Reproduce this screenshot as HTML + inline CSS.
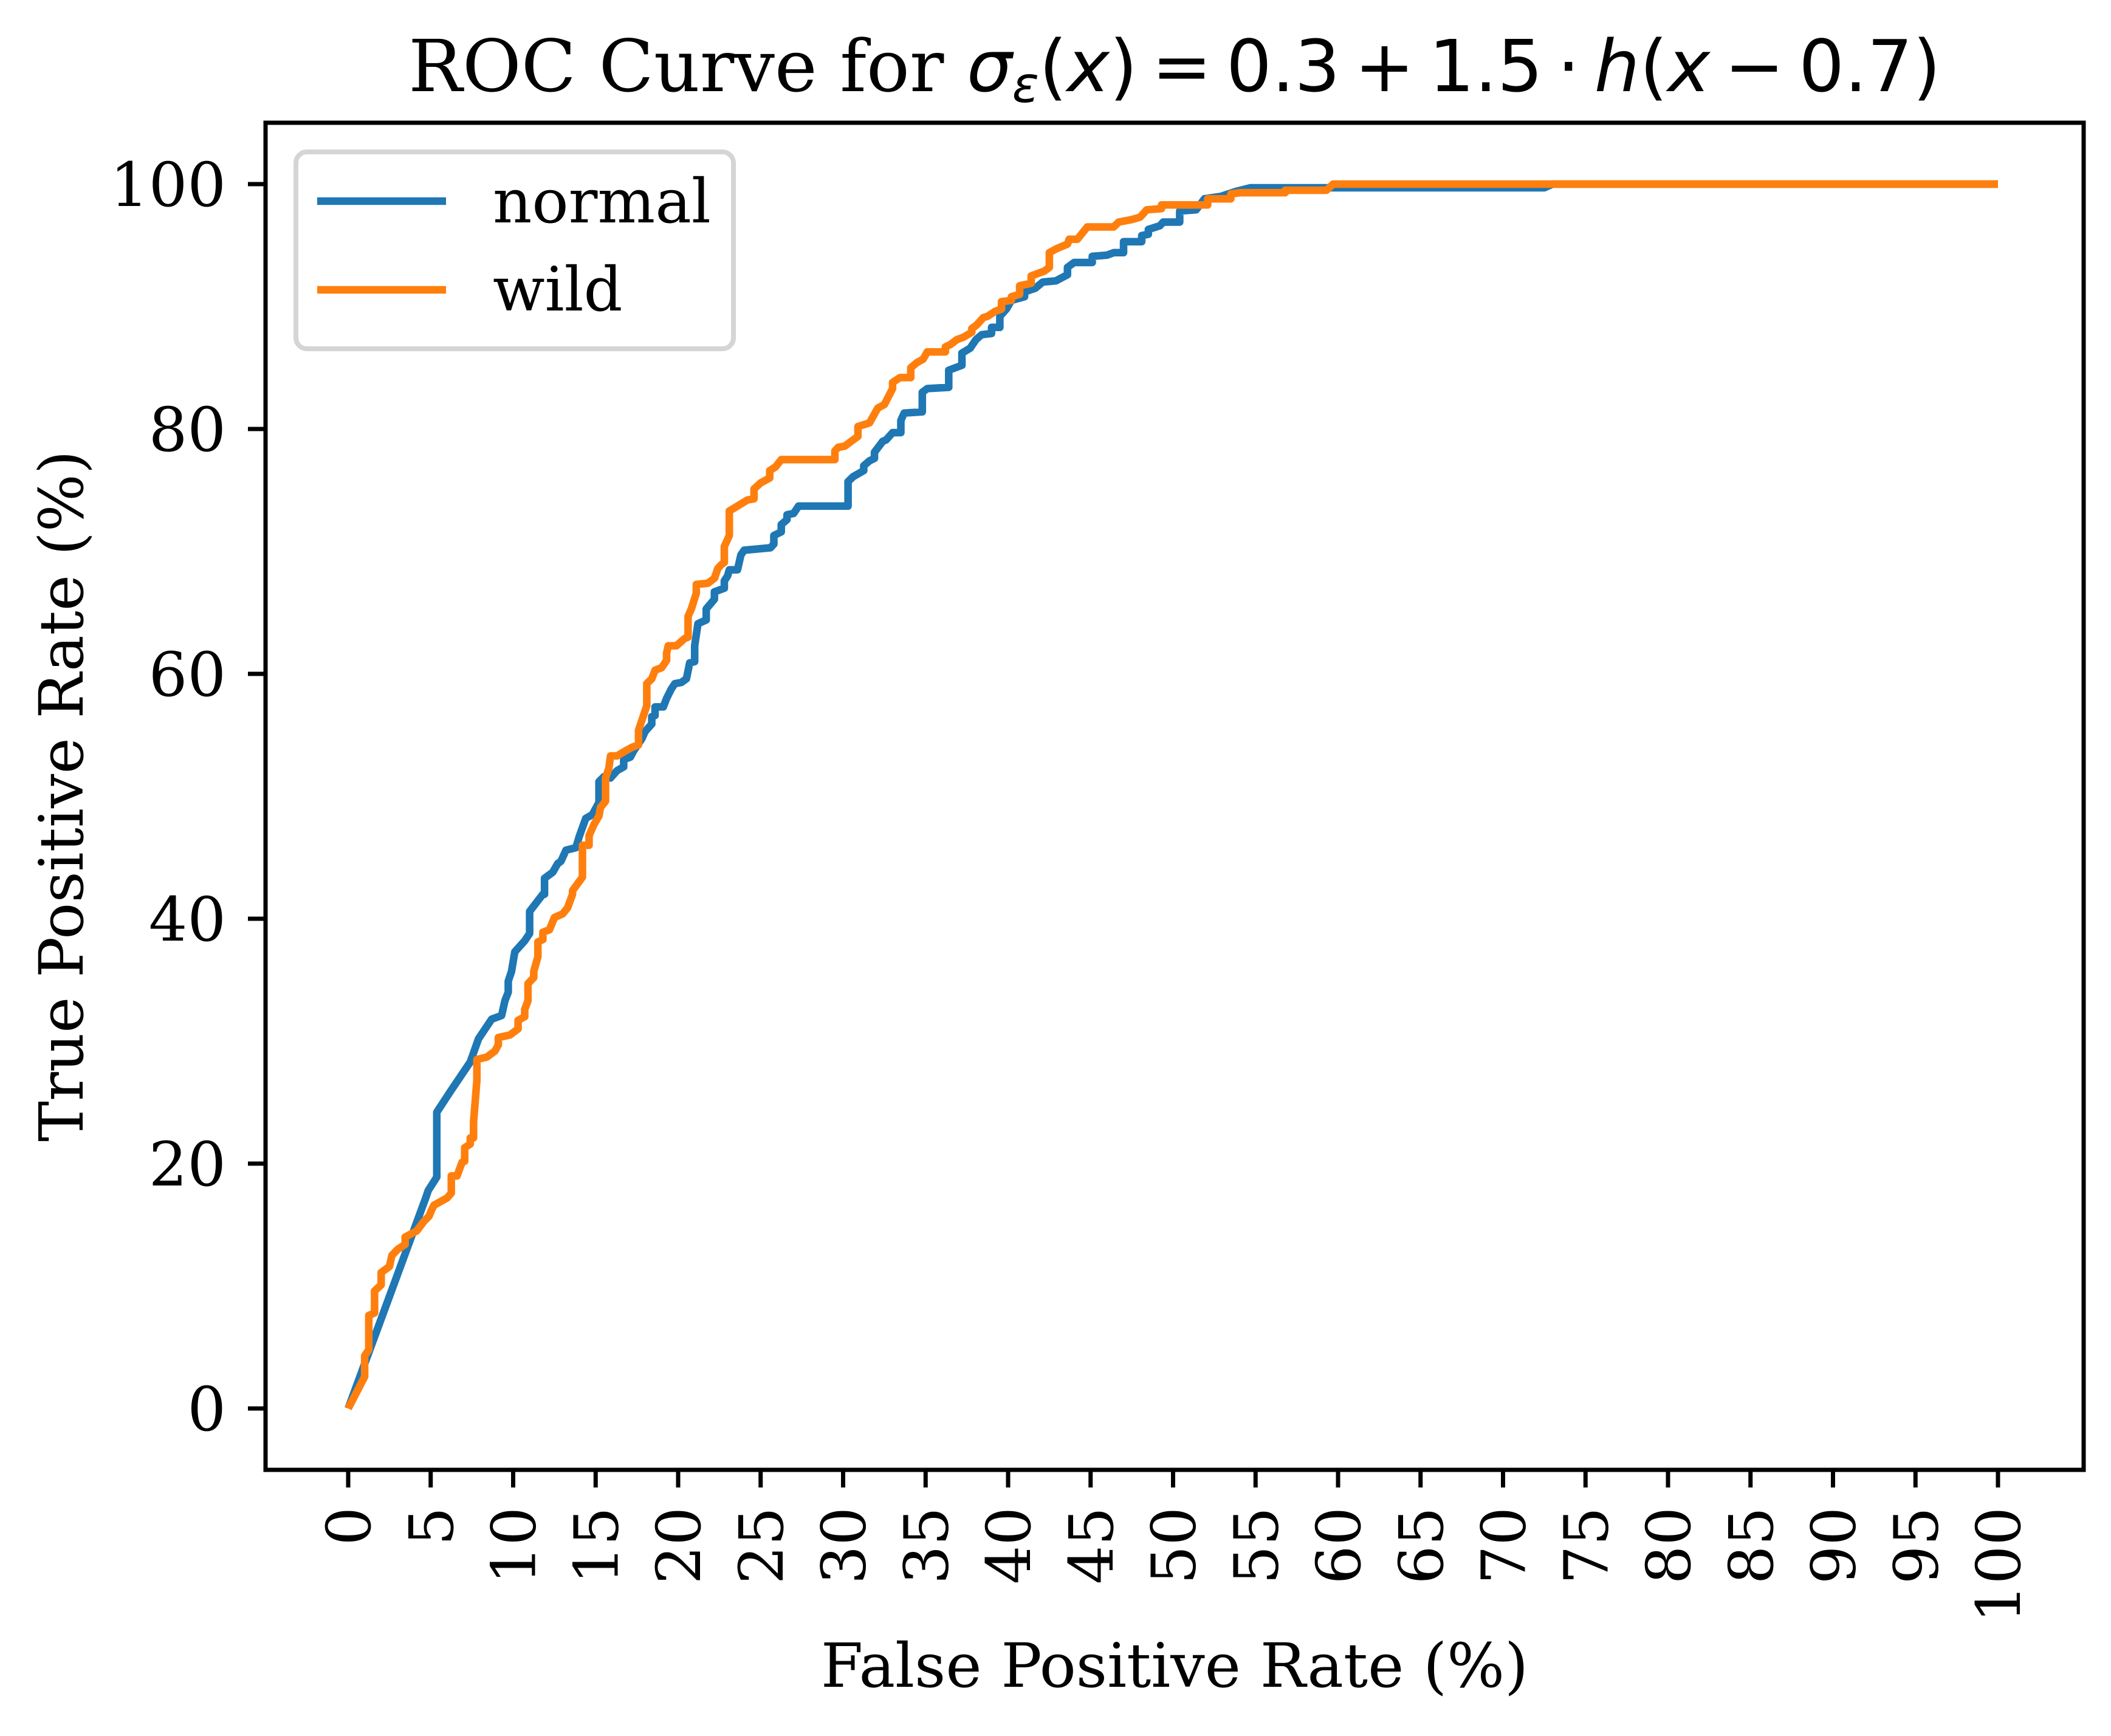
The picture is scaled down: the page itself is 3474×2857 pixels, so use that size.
<!DOCTYPE html>
<html><head><meta charset="utf-8"><style>
html,body{margin:0;padding:0;background:#fff;}
svg{display:block;}
text{font-family:"DejaVu Serif","Liberation Serif",serif;fill:#000;}
.m{font-family:"DejaVu Sans","Liberation Sans",sans-serif;font-style:italic;}
.mr{font-family:"DejaVu Sans","Liberation Sans",sans-serif;word-spacing:-14px;}
</style></head><body>
<svg id="chart" xmlns="http://www.w3.org/2000/svg" width="3474" height="2857" viewBox="0 0 3474 2857">
<rect x="0" y="0" width="3474" height="2857" fill="#fff"/>
<text x="1933" y="150" font-size="118" text-anchor="middle">ROC Curve for <tspan class="m">σ</tspan><tspan class="m" font-size="82" dy="18">ε</tspan><tspan class="mr" dy="-18">(</tspan><tspan class="m">x</tspan><tspan class="mr">) = 0.3 + 1.5 · </tspan><tspan class="m">h</tspan><tspan class="mr">(</tspan><tspan class="m">x</tspan><tspan class="mr"> − 0.7)</tspan></text>
<g id="xticks"></g>
<g id="yticks"></g>
<g id="series"></g>
<rect x="437" y="202" width="2992" height="2217" fill="none" stroke="#000" stroke-width="7"/>
<text x="1933" y="2776" font-size="100" text-anchor="middle">False Positive Rate (%)</text>
<text transform="translate(100,1310) rotate(-90)" font-size="100" text-anchor="middle" dy="0.36em">True Positive Rate (%)</text>
<g>
<rect x="487" y="250" width="720" height="324" rx="18" fill="#fff" fill-opacity="0.8" stroke="#d5d5d5" stroke-width="8"/>
<line x1="522" y1="331" x2="734" y2="331" stroke="#1f77b4" stroke-width="12.5"/>
<text x="811" y="366" font-size="100">normal</text>
<line x1="522" y1="477" x2="734" y2="477" stroke="#ff7f0e" stroke-width="12.5"/>
<text x="811" y="511" font-size="100">wild</text>
</g>
</svg>
<script>
const xTicks = [0,5,10,15,20,25,30,35,40,45,50,55,60,65,70,75,80,85,90,95,100];
const yTicks = [0,20,40,60,80,100];
const normalFpr = [0,4.7,4.85,5.37,5.37,6.2,7.4,7.9,8.7,9.3,9.5,9.7,9.7,9.9,10.1,10.7,11.0,11.0,11.4,11.8,11.9,11.9,12.4,12.7,12.9,13.2,13.8,14.0,14.4,14.8,15.2,15.2,15.5,15.9,16.3,16.7,16.7,17.1,17.3,17.8,18.0,18.4,18.4,18.6,18.6,19.1,19.3,19.6,19.8,20.2,20.5,20.7,21.0,21.0,21.2,21.7,21.7,22.2,22.2,22.8,22.8,23.0,23.1,23.6,23.8,24.0,25.6,25.8,25.8,26.25,26.25,26.6,26.6,27.0,27.3,30.3,30.3,30.6,31.25,31.25,31.6,31.9,31.9,32.4,32.6,33.0,33.5,33.5,33.7,34.8,34.8,35.1,36.4,36.4,37.2,37.2,37.7,38.05,38.4,39.0,39.0,39.5,39.5,39.9,40.2,41.0,41.0,41.65,42.1,42.9,43.6,43.6,44.0,45.1,45.1,46.0,46.4,47.0,47.0,48.1,48.1,48.5,48.5,49.2,49.4,50.4,50.4,51.4,51.9,52.9,53.8,54.7,72.5,73.0,100];
const normalTpr = [0,17.2,17.8,18.9,24.2,25.9,28.3,30.2,31.8,32.1,33.3,34.0,34.9,35.7,37.3,38.2,38.8,40.6,41.3,42.0,42.0,43.3,43.8,44.5,44.7,45.6,45.8,46.7,48.2,48.5,49.5,51.2,51.6,51.5,52.1,52.4,53.0,53.2,53.7,54.7,55.3,55.9,56.5,56.6,57.3,57.3,58.0,58.8,59.2,59.3,59.6,60.9,61.0,62.3,64.1,64.4,65.3,66.1,66.7,67.0,67.6,68.0,68.5,68.5,69.7,70.1,70.3,70.6,71.3,71.6,72.2,72.6,73.0,73.1,73.7,73.7,75.7,76.1,76.6,77.0,77.4,77.6,78.1,79.0,79.1,79.7,79.7,80.7,81.3,81.4,83.0,83.3,83.4,84.8,85.2,86.2,86.6,87.3,87.7,87.8,88.3,88.3,89.2,89.8,90.5,90.8,91.2,91.5,92.0,92.1,92.6,93.2,93.6,93.6,94.1,94.2,94.4,94.4,95.3,95.3,95.8,95.9,96.3,96.6,96.9,96.9,97.8,97.9,98.8,99.0,99.4,99.7,99.7,100,100];
const wildFpr = [0,1.0,1.0,1.25,1.25,1.6,1.6,2.0,2.0,2.5,2.65,3.0,3.45,3.45,4.15,4.6,4.9,5.05,5.2,6.0,6.25,6.25,6.6,6.9,7.06,7.06,7.4,7.4,7.6,7.6,7.8,7.8,8.4,8.9,9.1,9.1,9.8,10.3,10.3,10.7,10.7,10.9,10.9,11.25,11.25,11.5,11.5,11.8,11.8,12.2,12.5,13.0,13.3,13.6,13.6,14.2,14.2,14.6,14.6,14.9,15.2,15.3,15.6,15.6,15.8,15.9,16.3,16.8,17.2,17.6,17.6,18.1,18.1,18.4,18.6,19.0,19.3,19.3,19.4,19.9,20.4,20.6,20.6,20.8,21.1,21.1,21.8,22.2,22.4,22.6,22.8,22.8,23.1,23.1,24.2,24.6,24.6,25.0,25.55,25.55,25.9,26.25,29.5,29.5,29.7,30.1,30.9,30.9,31.6,32.1,32.5,33.0,33.0,33.45,34.1,34.1,34.45,34.85,35.1,36.2,36.2,36.5,36.9,37.3,37.8,37.8,38.1,38.5,38.75,39.2,39.6,39.6,40.2,40.2,40.7,40.7,41.4,41.4,42.2,42.5,42.5,42.9,43.6,43.7,44.2,44.8,46.4,46.7,47.5,48.0,48.4,49.3,49.3,50.3,52.1,52.1,53.5,53.5,54.1,56.8,56.8,59.3,59.7,100];
const wildTpr = [0,2.6,4.3,4.8,7.6,7.8,9.6,10.1,11.1,11.6,12.5,13.0,13.4,14.0,14.5,15.3,15.7,16.2,16.6,17.2,17.6,19.0,19.0,20.1,20.2,21.3,21.6,22.1,22.1,23.4,26.8,28.5,28.7,29.2,29.7,30.3,30.5,31.0,31.7,32.0,32.6,33.3,34.7,35.2,35.7,36.9,38.1,38.3,38.9,39.1,40.1,40.4,40.9,42.0,42.3,43.4,46.0,46.0,46.8,47.7,48.4,49.1,49.6,51.5,52.3,53.3,53.3,53.7,54.0,54.2,55.4,57.4,59.2,59.6,60.3,60.5,61.1,61.7,62.3,62.3,62.9,63.0,64.7,65.3,66.6,67.3,67.4,67.8,68.6,68.9,69.1,70.4,71.3,73.3,74.2,74.3,75.1,75.6,76.0,76.6,76.9,77.5,77.5,78.2,78.5,78.6,79.4,80.2,80.5,81.7,82.0,83.3,83.8,84.2,84.2,85.0,85.4,85.7,86.3,86.3,86.7,86.9,87.3,87.5,87.9,88.2,88.5,89.1,89.2,89.6,89.8,90.4,90.5,90.8,91.0,91.7,91.9,92.5,92.9,93.2,94.4,94.7,95.1,95.5,95.5,96.5,96.5,96.9,97.1,97.3,97.9,98.0,98.3,98.3,98.3,98.8,98.8,99.2,99.3,99.3,99.5,99.5,100,100];

const NS = 'http://www.w3.org/2000/svg';
function sx(v){ return 573 + v * 27.15; }
function sy(v){ return 2318 - v * 20.15; }

const xg = document.getElementById('xticks');
xTicks.forEach(function(t){
  const x = sx(t);
  const ln = document.createElementNS(NS,'line');
  ln.setAttribute('x1',x); ln.setAttribute('x2',x);
  ln.setAttribute('y1',2419); ln.setAttribute('y2',2448);
  ln.setAttribute('stroke','#000'); ln.setAttribute('stroke-width','7');
  
  
  xg.appendChild(ln);
  const tx = document.createElementNS(NS,'text');
  tx.setAttribute('transform','translate('+x+',2480) rotate(-90)');
  tx.setAttribute('text-anchor','end');
  tx.setAttribute('dy','0.36em');
  tx.setAttribute('font-size','100');
  tx.textContent = String(t);
  
  
  xg.appendChild(tx);
});
const yg = document.getElementById('yticks');
yTicks.forEach(function(t){
  const y = sy(t);
  const ln = document.createElementNS(NS,'line');
  ln.setAttribute('x1',408); ln.setAttribute('x2',437);
  ln.setAttribute('y1',y); ln.setAttribute('y2',y);
  ln.setAttribute('stroke','#000'); ln.setAttribute('stroke-width','7');
  
  
  yg.appendChild(ln);
  const tx = document.createElementNS(NS,'text');
  tx.setAttribute('x',372); tx.setAttribute('y',y);
  tx.setAttribute('text-anchor','end');
  tx.setAttribute('dy','0.36em');
  tx.setAttribute('font-size','100');
  tx.textContent = String(t);
  
  
  yg.appendChild(tx);
});
const sg = document.getElementById('series');
function drawLine(xs, ys, color, name){
  const pts = xs.map(function(v,i){ return sx(v).toFixed(1)+','+sy(ys[i]).toFixed(1); }).join(' ');
  const pl = document.createElementNS(NS,'polyline');
  pl.setAttribute('points', pts);
  pl.setAttribute('fill','none');
  pl.setAttribute('stroke', color);
  pl.setAttribute('stroke-width','12.5');
  pl.setAttribute('stroke-linejoin','round');
  
  
  sg.appendChild(pl);
}
drawLine(normalFpr, normalTpr, '#1f77b4', 'normal-roc-line');
drawLine(wildFpr, wildTpr, '#ff7f0e', 'wild-roc-line');
</script>
</body></html>
